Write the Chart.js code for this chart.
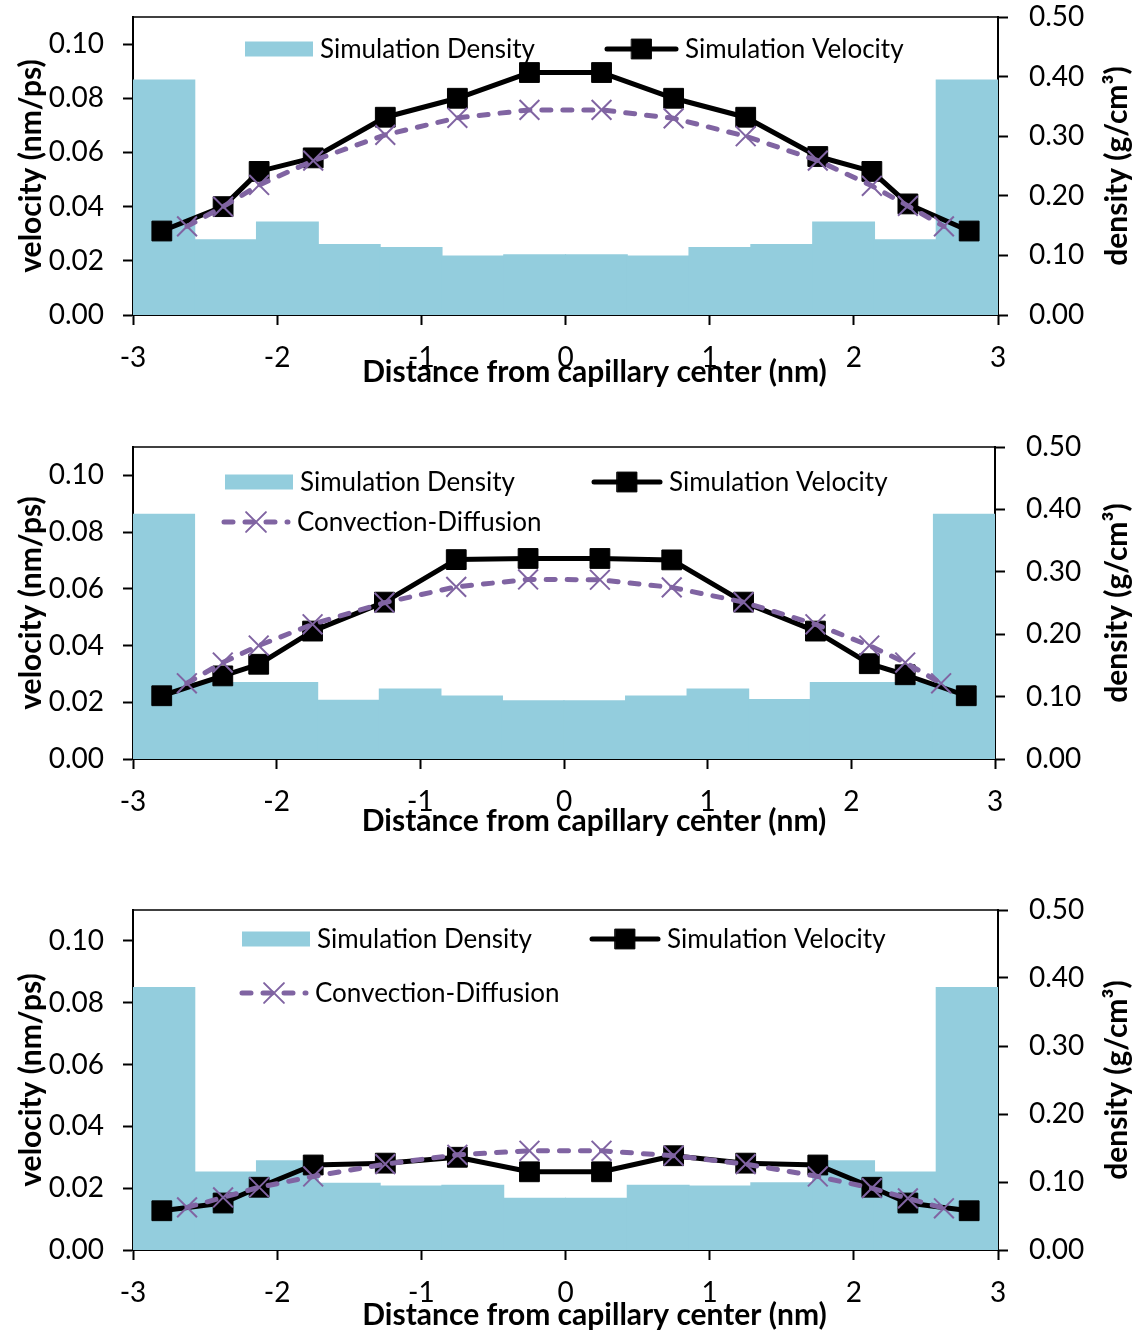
<!DOCTYPE html>
<html>
<head>
<meta charset="utf-8">
<title>Velocity and density profiles across the capillary</title>
<script src="https://cdn.jsdelivr.net/npm/chart.js@4.4.1/dist/chart.umd.min.js"></script>
<style>
  html, body { margin: 0; padding: 0; background: #ffffff; }
  #page { position: relative; width: 1137px; height: 1336px; overflow: hidden; }
  .panel { position: absolute; left: 0; width: 1137px; }
  canvas { display: block; }
</style>
</head>
<body>
<div id="page">
  <div class="panel" style="top:0px;height:400px"><canvas id="panel1" width="1137" height="400"></canvas></div>
  <div class="panel" style="top:420px;height:430px"><canvas id="panel2" width="1137" height="430"></canvas></div>
  <div class="panel" style="top:880px;height:456px"><canvas id="panel3" width="1137" height="456"></canvas></div>
</div>
<script>
// ---- data ----------------------------------------------------------------
// density histogram: 14 bins across the capillary (bin centres, nm)
const densityBinCenters = [-2.786, -2.357, -1.929, -1.5, -1.071, -0.643, -0.214,
                            0.214, 0.643, 1.071, 1.5, 1.929, 2.357, 2.786];
// positions (nm) of the simulated velocity samples
const velocityX = [-2.8, -2.375, -2.125, -1.75, -1.25, -0.75, -0.25,
                    0.25, 0.75, 1.25, 1.75, 2.125, 2.375, 2.8];
// positions (nm) of the convection-diffusion model points
const diffusionX = [-2.625, -2.375, -2.125, -1.75, -1.25, -0.75, -0.25,
                     0.25, 0.75, 1.25, 1.75, 2.125, 2.375, 2.625];

// top panel
const density1   = [0.394, 0.126, 0.156, 0.118, 0.113, 0.099, 0.101, 0.101, 0.099, 0.113, 0.118, 0.156, 0.126, 0.394];
const velocity1  = [0.031, 0.040, 0.053, 0.058, 0.073, 0.080, 0.0895, 0.0895, 0.080, 0.073, 0.0585, 0.053, 0.041, 0.031];
const diffusion1 = [0.0327, 0.040, 0.048, 0.057, 0.0665, 0.0728, 0.0757, 0.0757, 0.0726, 0.066, 0.057, 0.0477, 0.0403, 0.0327];

// middle panel
const density2   = [0.392, 0.1226, 0.1226, 0.094, 0.112, 0.101, 0.093, 0.093, 0.101, 0.112, 0.095, 0.1226, 0.1226, 0.392];
const velocity2  = [0.0223, 0.0293, 0.0334, 0.0451, 0.0553, 0.0703, 0.0707, 0.0707, 0.0702, 0.0553, 0.0451, 0.0336, 0.0297, 0.0223];
const diffusion2 = [0.0267, 0.034, 0.040, 0.0475, 0.0551, 0.0607, 0.0633, 0.0632, 0.0605, 0.0553, 0.0475, 0.040, 0.034, 0.0267];

// bottom panel
const density3   = [0.386, 0.1144, 0.131, 0.098, 0.094, 0.095, 0.076, 0.076, 0.095, 0.094, 0.0987, 0.131, 0.1144, 0.386];
const velocity3  = [0.0127, 0.0152, 0.0203, 0.0275, 0.0281, 0.030, 0.0253, 0.0253, 0.0305, 0.0281, 0.0275, 0.0203, 0.0152, 0.0127];
const diffusion3 = [0.0138, 0.017, 0.0203, 0.0238, 0.0278, 0.0308, 0.0321, 0.0321, 0.0305, 0.0278, 0.0238, 0.020, 0.0167, 0.0135];

// axis ranges and labels
const distanceRange = [-3, 3];
const velocityRange = [0, 0.11];
const densityRange  = [0, 0.5];
const seriesNames = ['Simulation Density', 'Simulation Velocity', 'Convection-Diffusion'];
const xAxisLabel = 'Distance from capillary center (nm)';
const velocityAxisLabel = 'velocity (nm/ps)';
const densityAxisLabel = 'density (g/cm\u00B3)';

// ---- styling ---------------------------------------------------------------
const FONT = 'Lato';
const BLACK = '#000000';
const DENSITY_BLUE = '#93CDDD';
const MODEL_PURPLE = '#8064A2';
const TITLE_SIZE = 30;

function pairs(xs, ys) {
  return xs.map((x, i) => ({ x: x, y: ys[i] }));
}

// legend entries drawn at fixed spots inside the plot frame
const placedLegend = {
  id: 'placedLegend',
  afterDraw(chart, args, opts) {
    const ctx = chart.ctx;
    const area = chart.chartArea;
    ctx.save();
    opts.items.forEach(item => {
      const ds = chart.data.datasets[item.dataset];
      const x0 = area.left + item.x;
      const y = area.top + item.y;
      if (item.kind === 'box') {
        ctx.fillStyle = ds.backgroundColor;
        ctx.fillRect(x0, y - 7.5, item.w, 15);
      } else {
        ctx.strokeStyle = ds.borderColor;
        ctx.lineWidth = ds.borderWidth;
        ctx.lineCap = ds.borderCapStyle || 'round';
        ctx.setLineDash(ds.borderDash || []);
        ctx.beginPath();
        ctx.moveTo(x0 + 2, y);
        ctx.lineTo(x0 + item.w - 2, y);
        ctx.stroke();
        ctx.setLineDash([]);
        ctx.fillStyle = ds.pointBackgroundColor;
        ctx.strokeStyle = ds.pointBorderColor;
        ctx.lineWidth = ds.pointBorderWidth;
        Chart.helpers.drawPoint(ctx, {
          pointStyle: ds.pointStyle, radius: ds.pointRadius,
          borderWidth: ds.pointBorderWidth, rotation: 0
        }, x0 + item.w / 2, y);
      }
      ctx.fillStyle = BLACK;
      ctx.font = '26px ' + FONT;
      ctx.textAlign = 'left';
      ctx.textBaseline = 'middle';
      ctx.fillText(ds.label, x0 + item.w + 7, y + 1);
    });
    ctx.restore();
  }
};

// plot frame, x-axis title and the right-hand (density) axis title
const frameAndTitles = {
  id: 'frameAndTitles',
  beforeDatasetsDraw(chart) {
    const ctx = chart.ctx;
    const a = chart.chartArea;
    ctx.save();
    ctx.strokeStyle = BLACK;
    ctx.lineWidth = 1.5;
    ctx.beginPath();
    ctx.moveTo(a.left, a.top);
    ctx.lineTo(a.right, a.top);
    ctx.stroke();
    ctx.restore();
  },
  afterDraw(chart, args, o) {
    const ctx = chart.ctx;
    const a = chart.chartArea;
    ctx.save();
    ctx.fillStyle = BLACK;
    ctx.font = 'bold ' + TITLE_SIZE + 'px ' + FONT;
    ctx.textAlign = 'center';
    ctx.textBaseline = 'middle';
    ctx.fillText(xAxisLabel, (a.left + a.right) / 2 + o.xShift, a.bottom + o.xDrop);
    ctx.translate(chart.width - o.rightInset, (a.top + a.bottom) / 2);
    ctx.rotate(-Math.PI / 2);
    ctx.fillText(densityAxisLabel, 0, 0);
    ctx.restore();
  }
};

function tickFont() { return { family: FONT, size: 28 }; }
function axisGrid() {
  return { display: true, drawOnChartArea: false, drawTicks: true, tickLength: 10,
           tickColor: BLACK, tickWidth: 2, offset: false };
}
function axisBorder() { return { display: true, color: BLACK, width: 2 }; }

function buildPanel(canvasId, series, layout) {
  return new Chart(document.getElementById(canvasId), {
    type: 'bar',
    data: {
      datasets: [
        {
          type: 'bar', label: seriesNames[0],
          data: pairs(densityBinCenters, series.density),
          xAxisID: 'x', yAxisID: 'y2',
          backgroundColor: DENSITY_BLUE, borderWidth: 0, inflateAmount: 0.6,
          barPercentage: 1.0, categoryPercentage: 1.0, order: 3
        },
        {
          type: 'line', label: seriesNames[1],
          data: pairs(velocityX, series.velocity),
          xAxisID: 'x', yAxisID: 'y',
          borderColor: BLACK, borderWidth: 5, borderCapStyle: 'round', borderJoinStyle: 'round',
          pointStyle: 'rect', pointRadius: 14,
          pointBackgroundColor: BLACK, pointBorderColor: BLACK, pointBorderWidth: 1,
          fill: false, tension: 0, order: 2
        },
        {
          type: 'line', label: seriesNames[2],
          data: pairs(diffusionX, series.diffusion),
          xAxisID: 'x', yAxisID: 'y',
          borderColor: MODEL_PURPLE, borderWidth: 5, borderDash: [9, 12],
          borderCapStyle: 'round', borderJoinStyle: 'round',
          pointStyle: 'crossRot', pointRadius: 14,
          pointBackgroundColor: MODEL_PURPLE, pointBorderColor: MODEL_PURPLE, pointBorderWidth: 2,
          fill: false, tension: 0, order: 1
        }
      ]
    },
    options: {
      responsive: false,
      animation: false,
      devicePixelRatio: 1,
      events: [],
      layout: { padding: { top: layout.padTop, left: 0, right: 0, bottom: 0 } },
      plugins: {
        legend: { display: false },
        tooltip: { enabled: false },
        placedLegend: { items: layout.legend },
        frameAndTitles: { xShift: layout.xShift, xDrop: layout.xDrop, rightInset: 20 }
      },
      scales: {
        x: {
          type: 'linear', position: 'bottom',
          min: distanceRange[0], max: distanceRange[1], offset: false,
          ticks: { stepSize: 1, color: BLACK, font: tickFont(), padding: 16,
                   maxRotation: 0, autoSkip: false, callback: v => String(v) },
          grid: axisGrid(), border: axisBorder(),
          afterFit(s) { s.height = layout.xAxisHeight; s.paddingLeft = 0; s.paddingRight = 0; }
        },
        y: {
          type: 'linear', position: 'left',
          min: velocityRange[0], max: velocityRange[1],
          ticks: { stepSize: 0.02, includeBounds: false, color: BLACK, font: tickFont(),
                   padding: 19, callback: v => v.toFixed(2) },
          grid: axisGrid(), border: axisBorder(),
          title: { display: true, text: velocityAxisLabel, color: BLACK,
                   font: { family: FONT, size: TITLE_SIZE, weight: 'bold' }, padding: { top: 13, bottom: 0 } },
          afterFit(s) { s.width = layout.left; s.paddingTop = 0; s.paddingBottom = 0; }
        },
        y2: {
          type: 'linear', position: 'right',
          min: densityRange[0], max: densityRange[1],
          ticks: { stepSize: 0.1, color: BLACK, font: tickFont(), padding: 21,
                   callback: v => v.toFixed(2) },
          grid: axisGrid(), border: axisBorder(),
          afterFit(s) { s.width = 1137 - layout.right; s.paddingTop = 0; s.paddingBottom = 0; }
        }
      }
    },
    plugins: [placedLegend, frameAndTitles]
  });
}

buildPanel('panel1',
  { density: density1, velocity: velocity1, diffusion: diffusion1 },
  { padTop: 17, xAxisHeight: 85, left: 133, right: 998, xShift: 29, xDrop: 57,
    legend: [
      { dataset: 0, kind: 'box',  x: 112, y: 32, w: 68 },
      { dataset: 1, kind: 'line', x: 472, y: 32, w: 73 }
    ] });

buildPanel('panel2',
  { density: density2, velocity: velocity2, diffusion: diffusion2 },
  { padTop: 27, xAxisHeight: 91, left: 133, right: 995, xShift: 30, xDrop: 62,
    legend: [
      { dataset: 0, kind: 'box',  x: 92,  y: 35, w: 68 },
      { dataset: 1, kind: 'line', x: 459, y: 35, w: 70 },
      { dataset: 2, kind: 'line', x: 89,  y: 75, w: 68 }
    ] });

buildPanel('panel3',
  { density: density3, velocity: velocity3, diffusion: diffusion3 },
  { padTop: 30, xAxisHeight: 86, left: 133, right: 998, xShift: 29, xDrop: 65,
    legend: [
      { dataset: 0, kind: 'box',  x: 109, y: 29, w: 68 },
      { dataset: 1, kind: 'line', x: 457, y: 29, w: 70 },
      { dataset: 2, kind: 'line', x: 107, y: 83, w: 68 }
    ] });
</script>
</body>
</html>
